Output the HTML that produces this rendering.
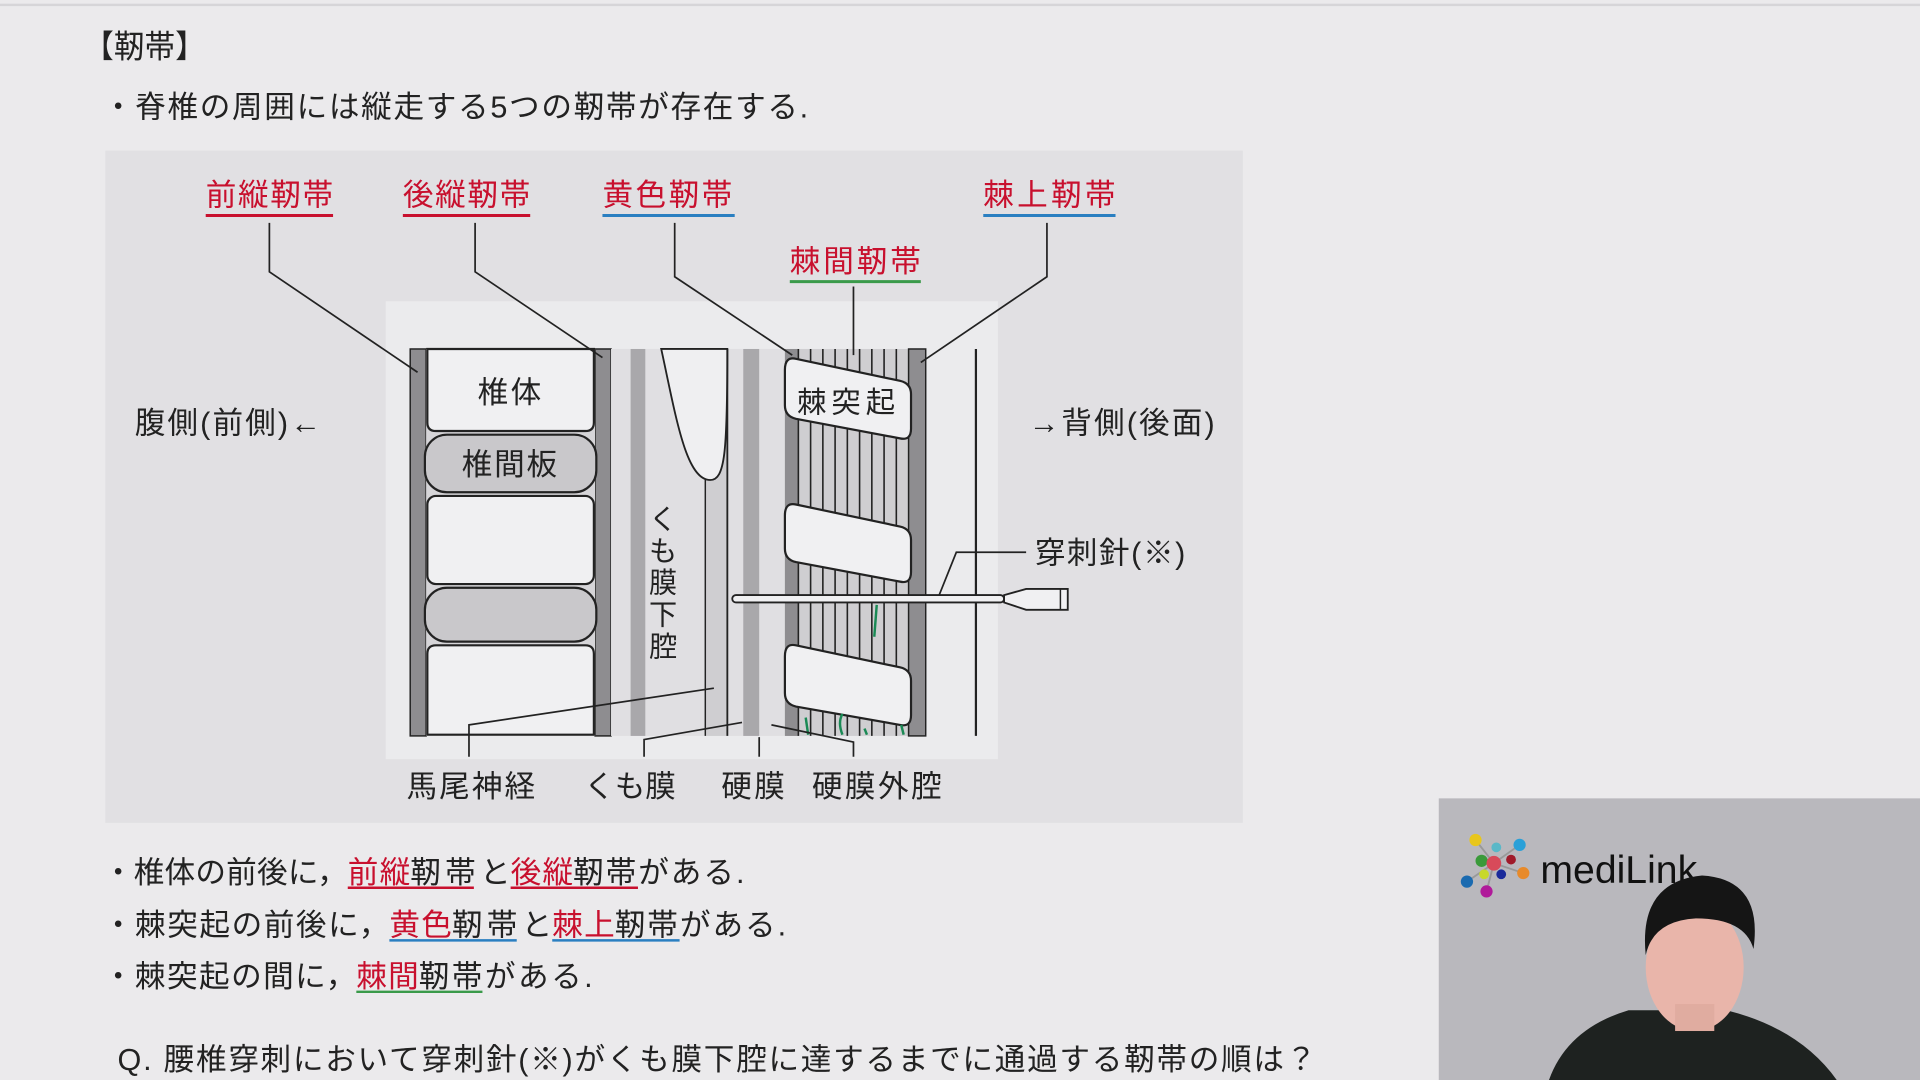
<!DOCTYPE html>
<html><head><meta charset="utf-8"><style>
html,body{margin:0;padding:0;width:1920px;height:1080px;overflow:hidden;background:#ebeaec}
svg{display:block}
text{font-family:"Liberation Sans","Noto Sans CJK JP",sans-serif;fill:#222}
</style></head><body>
<svg width="1920" height="1080" viewBox="0 0 1568 882" xmlns="http://www.w3.org/2000/svg">
<rect width="1568" height="882" fill="#ebeaec"/>
<rect x="0" y="3" width="1568" height="2" fill="#d6d5d8"/>
<text x="68" y="47" font-size="26" textLength="100" lengthAdjust="spacingAndGlyphs">【靭帯】</text>
<text x="84" y="96" font-size="25" textLength="576">・脊椎の周囲には縦走する5つの靭帯が存在する.</text>
<rect x="86" y="123" width="929" height="549" fill="#e1e0e3"/>
<rect x="315" y="246" width="500" height="374" fill="#ebebed"/>
<g font-size="25">
<text x="168" y="168" style="fill:#c8102e" textLength="104">前縦靭帯</text>
<text x="329" y="168" style="fill:#c8102e" textLength="104">後縦靭帯</text>
<text x="492" y="168" style="fill:#c8102e" textLength="106">黄色靭帯</text>
<text x="803" y="168" style="fill:#c8102e" textLength="108">棘上靭帯</text>
<text x="645" y="222" style="fill:#c8102e" textLength="107">棘間靭帯</text>
</g>
<g stroke-width="2.5">
<line x1="168" y1="176" x2="272" y2="176" stroke="#c8102e"/>
<line x1="329" y1="176" x2="433" y2="176" stroke="#c8102e"/>
<line x1="492" y1="176" x2="600" y2="176" stroke="#2a7fc1"/>
<line x1="803" y1="176" x2="911" y2="176" stroke="#2a7fc1"/>
<line x1="645" y1="230" x2="752" y2="230" stroke="#3a9a4a"/>
</g>
<rect x="335" y="285" width="13" height="316" fill="#8e8d90" stroke="#222" stroke-width="1.2"/>
<rect x="486" y="285" width="13" height="316" fill="#8e8d90" stroke="#222" stroke-width="1.2"/>
<rect x="348" y="285" width="138" height="316" fill="#d6d5d8"/>
<g stroke="#222" stroke-width="1.8">
<path d="M349,285 L485,285 L485,345 Q485,352 478,352 L356,352 Q349,352 349,345 Z" fill="#f0f0f2"/>
<rect x="347" y="355" width="140" height="47" rx="18" fill="#c9c8cb"/>
<rect x="349" y="405" width="136" height="72" rx="7" fill="#f0f0f2"/>
<rect x="347" y="480" width="140" height="44" rx="18" fill="#c9c8cb"/>
<path d="M349,600 L485,600 L485,534 Q485,527 478,527 L356,527 Q349,527 349,534 Z" fill="#f0f0f2"/>
</g>
<text x="390" y="329" font-size="25" textLength="52">椎体</text>
<text x="377" y="388" font-size="25" textLength="78">椎間板</text>
<rect x="499" y="285" width="142" height="316" fill="#e0dfe2"/>
<rect x="515" y="285" width="12" height="316" fill="#a9a8ab"/>
<rect x="576" y="285" width="18" height="316" fill="#cfced1"/>
<path d="M540,285 C552,340 560,392 580,392 C592,392 594,370 594,285 Z" fill="#efeff1" stroke="#222" stroke-width="1.5"/>
<line x1="594" y1="285" x2="594" y2="601" stroke="#222" stroke-width="1.5"/>
<line x1="576" y1="392" x2="576" y2="601" stroke="#222" stroke-width="1.2"/>
<rect x="607" y="285" width="13" height="316" fill="#a9a8ab"/>
<g font-size="23"><text x="530" y="432">く</text><text x="530" y="458">も</text><text x="530" y="484">膜</text><text x="530" y="510">下</text><text x="530" y="536">腔</text></g>
<rect x="641" y="285" width="101" height="316" fill="#cfced1"/>
<rect x="641" y="285" width="11" height="316" fill="#8e8d90"/>
<g stroke="#222" stroke-width="1.3">
<line x1="652" y1="285" x2="652" y2="601"/><line x1="662" y1="285" x2="662" y2="601"/><line x1="672" y1="285" x2="672" y2="601"/><line x1="682" y1="285" x2="682" y2="601"/><line x1="692" y1="285" x2="692" y2="601"/><line x1="702" y1="285" x2="702" y2="601"/><line x1="712" y1="285" x2="712" y2="601"/><line x1="722" y1="285" x2="722" y2="601"/><line x1="732" y1="285" x2="732" y2="601"/>
</g>
<rect x="742" y="285" width="14" height="316" fill="#8e8d90" stroke="#222" stroke-width="1.2"/>
<g fill="#f0f0f2" stroke="#222" stroke-width="1.8">
<path d="M650,293 L735,311 Q744,313 744,322 L744,350 Q744,360 735,358 L650,342 Q641,340 641,331 L641,302 Q641,291 650,293Z"/>
<path d="M650,412 L735,430 Q744,432 744,441 L744,467 Q744,477 735,475 L650,459 Q641,457 641,448 L641,421 Q641,410 650,412Z"/>
<path d="M650,527 L735,545 Q744,547 744,556 L744,584 Q744,594 735,592 L650,577 Q641,575 641,566 L641,536 Q641,525 650,527Z"/>
</g>
<text x="651" y="337" font-size="24" textLength="80">棘突起</text>
<line x1="797" y1="285" x2="797" y2="601" stroke="#222" stroke-width="1.8"/>
<g stroke="#1a8a55" stroke-width="2" fill="none">
<path d="M716,494 L714,520"/><path d="M658,586 L660,600"/><path d="M688,583 Q684,590 688,600"/><path d="M706,595 L708,600"/><path d="M736,592 L738,600"/>
</g>
<g stroke="#222" stroke-width="1.4" fill="none">
<polyline points="220,182 220,222 341,304"/>
<polyline points="388,182 388,222 492,292"/>
<polyline points="551,182 551,226 647,290"/>
<polyline points="697,234 697,290"/>
<polyline points="855,182 855,226 752,296"/>
</g>
<rect x="598" y="486" width="222" height="6" rx="3" fill="#f0f0f2" stroke="#222" stroke-width="1.5"/>
<path d="M820,486 L838,481 L872,481 L872,498 L838,498 L820,492Z" fill="#f0f0f2" stroke="#222" stroke-width="1.5"/>
<line x1="866" y1="481" x2="866" y2="498" stroke="#222" stroke-width="1.2"/>
<polyline points="838,451 781,451 767,486" fill="none" stroke="#222" stroke-width="1.4"/>
<text x="845" y="460" font-size="25" textLength="123">穿刺針(※)</text>
<text x="110" y="354" font-size="25" textLength="152">腹側(前側)←</text>
<text x="840" y="354" font-size="25" textLength="152">→背側(後面)</text>
<g stroke="#222" stroke-width="1.4" fill="none">
<polyline points="383,618 383,592 583,562"/>
<polyline points="526,618 526,604 606,590"/>
<polyline points="620,618 620,602"/>
<polyline points="697,618 697,606 630,592"/>
</g>
<g font-size="25">
<text x="332" y="651" textLength="105">馬尾神経</text><text x="477" y="651" textLength="75">くも膜</text><text x="589" y="651" textLength="52">硬膜</text><text x="663" y="651" textLength="106">硬膜外腔</text>
</g>
<g font-size="25">
<text x="84" y="721" textLength="200">・椎体の前後に，</text>
<text x="284" y="721" style="fill:#c8102e" textLength="51">前縦</text>
<text x="335" y="721" textLength="82">靭帯と</text>
<text x="417" y="721" style="fill:#c8102e" textLength="51">後縦</text>
<text x="468" y="721" textLength="140">靭帯がある.</text>
<text x="84" y="764" textLength="234">・棘突起の前後に，</text>
<text x="318" y="764" style="fill:#c8102e" textLength="51">黄色</text>
<text x="369" y="764" textLength="82">靭帯と</text>
<text x="451" y="764" style="fill:#c8102e" textLength="51">棘上</text>
<text x="502" y="764" textLength="140">靭帯がある.</text>
<text x="84" y="806" textLength="207">・棘突起の間に，</text>
<text x="291" y="806" style="fill:#c8102e" textLength="51">棘間</text>
<text x="342" y="806" textLength="142">靭帯がある.</text>
<text x="96" y="874" textLength="979">Q. 腰椎穿刺において穿刺針(※)がくも膜下腔に達するまでに通過する靭帯の順は？</text>
</g>
<g stroke-width="2">
<line x1="284" y1="725" x2="387" y2="725" stroke="#c8102e"/>
<line x1="417" y1="725" x2="521" y2="725" stroke="#c8102e"/>
<line x1="318" y1="768" x2="422" y2="768" stroke="#2a7fc1"/>
<line x1="451" y1="768" x2="555" y2="768" stroke="#2a7fc1"/>
<line x1="291" y1="810" x2="394" y2="810" stroke="#3a9a4a"/>
</g>
<rect x="1175" y="652" width="393" height="230" fill="#b9b8bd"/>
<g stroke="#999" stroke-width="1.5"><line x1="1220" y1="705" x2="1205" y2="686"/><line x1="1220" y1="705" x2="1241" y2="690"/><line x1="1220" y1="705" x2="1198" y2="720"/><line x1="1220" y1="705" x2="1214" y2="728"/><line x1="1220" y1="705" x2="1244" y2="713"/></g>
<circle cx="1205" cy="686" r="5" fill="#e8c61c"/><circle cx="1241" cy="690" r="5" fill="#2aa0d8"/><circle cx="1210" cy="703" r="5" fill="#3a9a3a"/><circle cx="1220" cy="705" r="6" fill="#d84a5a"/><circle cx="1198" cy="720" r="5" fill="#1a6ab0"/><circle cx="1214" cy="728" r="5" fill="#b01a9a"/><circle cx="1244" cy="713" r="5" fill="#e88a2a"/><circle cx="1234" cy="702" r="4" fill="#a01a2a"/><circle cx="1226" cy="714" r="4" fill="#1a2a9a"/><circle cx="1222" cy="692" r="4" fill="#5ab8c8"/><circle cx="1212" cy="714" r="4" fill="#c8d82a"/>
<text x="1258" y="721" font-size="32" style="fill:#111">mediLink</text>
<path d="M1265,882 Q1280,840 1330,825 L1410,825 Q1470,840 1500,882Z" fill="#1e2220"/>
<ellipse cx="1384" cy="790" rx="40" ry="52" fill="#e9b5aa"/>
<rect x="1368" y="820" width="32" height="22" fill="#e0aca0"/>
<path d="M1344,780 Q1338,720 1390,715 Q1440,718 1432,775 Q1425,750 1385,750 Q1350,752 1344,780Z" fill="#151515"/>
</svg>
</body></html>
